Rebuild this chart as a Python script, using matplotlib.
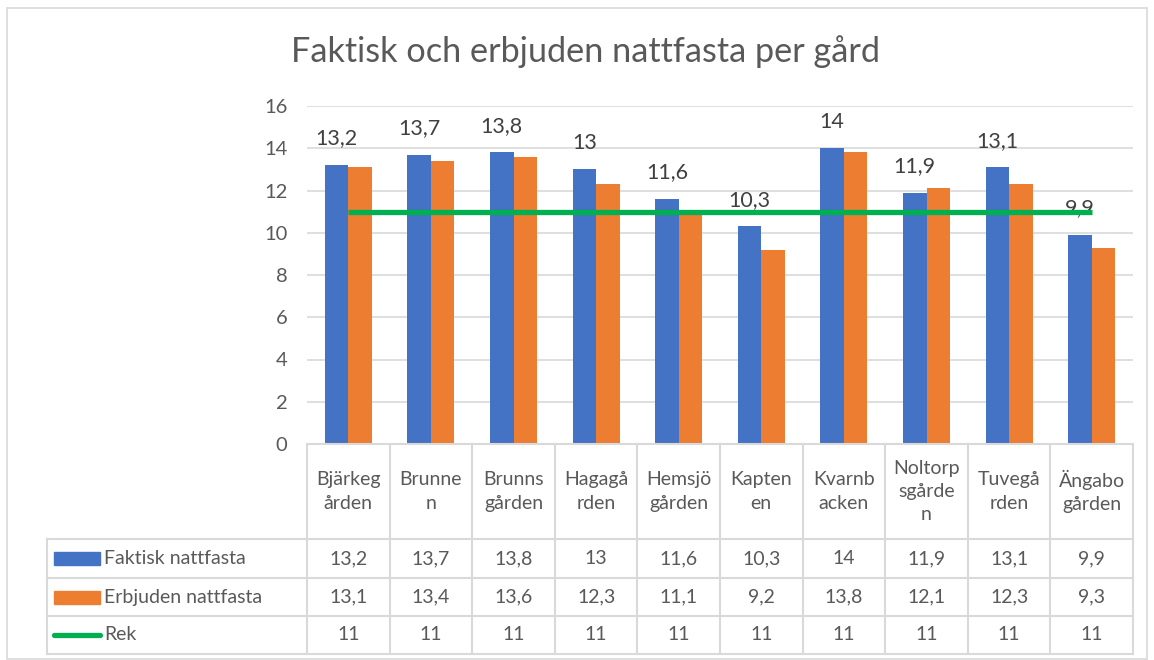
import matplotlib.pyplot as plt
from matplotlib.patches import Rectangle
from matplotlib.lines import Line2D

plt.rcParams['font.family'] = ['Lato', 'DejaVu Sans']

# data
gardar = ["Bjärkeg\nården", "Brunne\nn", "Brunns\ngården", "Hagagå\nrden", "Hemsjö\ngården",
          "Kapten\nen", "Kvarnb\nacken", "Noltorp\nsgårde\nn", "Tuvegå\nrden", "Ängabo\ngården"]
faktisk = [13.2, 13.7, 13.8, 13.0, 11.6, 10.3, 14.0, 11.9, 13.1, 9.9]
erbjuden = [13.1, 13.4, 13.6, 12.3, 11.1, 9.2, 13.8, 12.1, 12.3, 9.3]
rek = [11] * 10
serier = ["Faktisk nattfasta", "Erbjuden nattfasta", "Rek"]

W, H = 1154, 660
blue, orange, green = "#4472c4", "#ed7d31", "#00b050"
grey = "#d9d9d9"
txt = "#595959"

def fmt(v):
    return ("%g" % v).replace(".", ",")

fig = plt.figure(figsize=(W / 100, H / 100), dpi=100)
L, R, B, T = 307, 1133, 444, 106
ax = fig.add_axes([L / W, 1 - B / H, (R - L) / W, (B - T) / H])

n = len(gardar)
x = list(range(n))
bw = 0.285
ax.bar([i - bw / 2 for i in x], faktisk, bw, color=blue, zorder=3)
ax.bar([i + bw / 2 for i in x], erbjuden, bw, color=orange, zorder=3)
ax.plot(x, rek, color=green, lw=3.8, zorder=4, solid_capstyle='butt')
for i, v in enumerate(faktisk):
    ax.annotate(fmt(v), (i - bw / 2, v), xytext=(0, 12), textcoords='offset points',
                ha='center', va='bottom', fontsize=15.5, color="#404040")

ax.set_xlim(-0.5, n - 0.5)
ax.set_ylim(0, 16)
ax.set_yticks(range(0, 17, 2))
ax.set_xticks([])
ax.yaxis.grid(True, color=grey, lw=1.2, zorder=0)
ax.tick_params(axis='y', length=0, labelsize=14.5, labelcolor=txt, pad=14)
for s in ax.spines.values():
    s.set_visible(False)

fig.text(0.507, 1 - 52 / H, "Faktisk och erbjuden nattfasta per gård",
         ha='center', va='center', fontsize=24.7, color=txt)

# data table in pixel coords
def line(x0, y0, x1, y1, **kw):
    fig.add_artist(Line2D([x0 / W, x1 / W], [1 - y0 / H, 1 - y1 / H], color=grey, lw=1.5, **kw))

cw = (R - L) / n
rows = [444, 539, 578, 616, 654]
lx = 47
line(L, rows[0], R, rows[0])
for y in rows[1:]:
    line(lx, y, R, y)
for i in range(n + 1):
    line(L + i * cw, rows[0], L + i * cw, rows[-1])
line(lx, rows[1], lx, rows[-1])

for i, g in enumerate(gardar):
    cx = L + (i + 0.5) * cw
    fig.text(cx / W, 1 - (rows[0] + rows[1]) / 2 / H, g, ha='center', va='center',
             fontsize=14, color=txt, linespacing=1.45)
    for r, vals in enumerate([faktisk, erbjuden, rek]):
        cy = (rows[r + 1] + rows[r + 2]) / 2
        fig.text(cx / W, 1 - cy / H, fmt(vals[i]), ha='center', va='center',
                 fontsize=14, color=txt)

for r, (name, c) in enumerate(zip(serier, [blue, orange, green])):
    cy = (rows[r + 1] + rows[r + 2]) / 2
    if r < 2:
        fig.add_artist(Rectangle((54 / W, 1 - (cy + 6.5) / H), 46 / W, 13 / H,
                                 color=c, transform=fig.transFigure))
    else:
        fig.add_artist(Line2D([54 / W, 100 / W], [1 - cy / H] * 2, color=c, lw=3.8,
                              solid_capstyle='round'))
    fig.text(104 / W, 1 - cy / H, name, ha='left', va='center', fontsize=14, color=txt)

# chart border
fig.add_artist(Rectangle((7 / W, 1 - 659 / H), 1140 / W, 651 / H, fill=False,
                         edgecolor=grey, lw=1.2, transform=fig.transFigure))

fig.savefig("out.png", dpi=100)
